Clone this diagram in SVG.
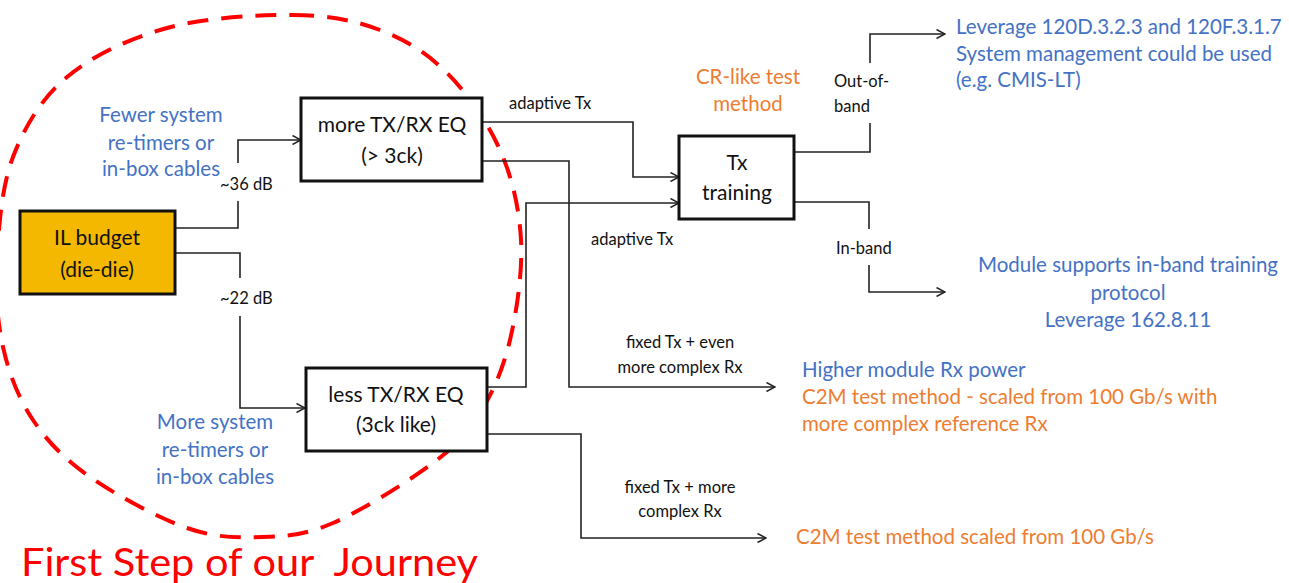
<svg xmlns="http://www.w3.org/2000/svg" width="1289" height="583" viewBox="0 0 1289 583">
  <style>
    .box { fill: #ffffff; stroke: #111111; stroke-width: 3; }
    .box-il { fill: #F4B800; stroke: #111111; stroke-width: 3; }
    .node-text { font-family: Lato, "Liberation Sans", sans-serif; font-size: 21px; fill: #111111; text-anchor: middle; }
    .lbl { font-family: Lato, "Liberation Sans", sans-serif; font-size: 16.5px; fill: #111111; }
    .blue { font-family: Lato, "Liberation Sans", sans-serif; font-size: 20.5px; fill: #4472C4; }
    .orange { font-family: Lato, "Liberation Sans", sans-serif; font-size: 20.5px; fill: #ED7D31; }
    .mid { text-anchor: middle; }
    .wire { fill: none; stroke: #222222; stroke-width: 1.6; }
    .arrow { marker-end: url(#chev); }
    .title { font-family: Lato, "Liberation Sans", sans-serif; font-size: 39px; fill: #FF0000; white-space: pre; }
    .scope { fill: none; stroke: #FF0000; stroke-width: 4; stroke-dasharray: 21 13; }
  </style>
  <defs>
    <marker id="chev" viewBox="0 0 10 10" refX="9.5" refY="5" markerWidth="10" markerHeight="10" markerUnits="userSpaceOnUse" orient="auto">
      <path d="M1,0.5 L9.5,5 L1,9.5" fill="none" stroke="#222222" stroke-width="1.5"/>
    </marker>
  </defs>

  <rect width="1289" height="583" fill="#ffffff"/>

  <!-- dashed scope loop around the first step -->
  <path class="scope" d="M293,15
    C328.5,15.3 354.3,20.3 380,30
    C405.7,39.7 427,53 447,73
    C467,93 487.7,122.2 500,150
    C512.3,177.8 519.3,208.3 521,240
    C522.7,271.7 516.8,311.2 510,340
    C503.2,368.8 492.8,392.5 480,413
    C467.2,433.5 457.5,444.7 433,463
    C408.5,481.3 361.5,510.7 333,523
    C304.5,535.3 286.3,536.2 262,537
    C237.7,537.8 215.7,538 187,528
    C158.3,518 115.7,495 90,477
    C64.3,459 47.5,441.7 33,420
    C18.5,398.3 9,373.7 3,347
    C-3,320.3 -4.7,291.7 -3,260
    C-1.3,228.3 1.3,187.5 13,157
    C24.7,126.5 41.3,98.5 67,77
    C92.7,55.5 129.3,38.3 167,28
    C204.7,17.7 257.5,14.7 293,15 Z"/>

  <!-- connectors -->
  <g id="connectors">
    <polyline class="wire" points="175,228 238,228 238,201"/>
    <polyline class="wire arrow" points="238,163 238,140 301,140"/>
    <polyline class="wire" points="175,253 240,253 240,278"/>
    <polyline class="wire arrow" points="240,316 240,408 305,408"/>
    <polyline class="wire arrow" points="482,122 633,122 633,177 679,177"/>
    <polyline class="wire arrow" points="482,161 569,161 569,387 775,387"/>
    <polyline class="wire arrow" points="487,387 526,387 526,203 679,203"/>
    <polyline class="wire arrow" points="487,434 581,434 581,538 766,538"/>
    <polyline class="wire" points="794,152 870,152 870,123"/>
    <polyline class="wire arrow" points="870,63 870,34 945,34"/>
    <polyline class="wire" points="794,202 869,202 869,229"/>
    <polyline class="wire arrow" points="869,265 869,292 945,292"/>
  </g>

  <!-- nodes -->
  <g id="il-budget">
    <rect class="box-il" x="20" y="211" width="155" height="83"/>
    <text class="node-text" x="97" y="245">IL budget</text>
    <text class="node-text" x="97" y="277">(die-die)</text>
  </g>
  <g id="more-eq">
    <rect class="box" x="301" y="98" width="181" height="83"/>
    <text class="node-text" x="392" y="132">more TX/RX EQ</text>
    <text class="node-text" x="392" y="163">(&gt; 3ck)</text>
  </g>
  <g id="less-eq">
    <rect class="box" x="306" y="368" width="181" height="83"/>
    <text class="node-text" x="396" y="402">less TX/RX EQ</text>
    <text class="node-text" x="396" y="432">(3ck like)</text>
  </g>
  <g id="tx-training">
    <rect class="box" x="679" y="136" width="115" height="83"/>
    <text class="node-text" x="737" y="170">Tx</text>
    <text class="node-text" x="737" y="200">training</text>
  </g>

  <!-- connector labels -->
  <g id="labels">
    <text class="lbl" x="220" y="190">~36 dB</text>
    <text class="lbl" x="220" y="304">~22 dB</text>
    <text class="lbl" x="509" y="109">adaptive Tx</text>
    <text class="lbl" x="591" y="245">adaptive Tx</text>
    <text class="lbl" x="834" y="87">Out-of-</text>
    <text class="lbl" x="834" y="112">band</text>
    <text class="lbl" x="836" y="254">In-band</text>
    <text class="lbl mid" x="680" y="348">fixed Tx + even</text>
    <text class="lbl mid" x="680" y="373">more complex Rx</text>
    <text class="lbl mid" x="680" y="493">fixed Tx + more</text>
    <text class="lbl mid" x="680" y="517">complex Rx</text>
  </g>

  <!-- annotations -->
  <g id="notes">
    <text class="blue mid" x="161" y="122">Fewer system</text>
    <text class="blue mid" x="161" y="150">re-timers or</text>
    <text class="blue mid" x="161" y="176">in-box cables</text>
    <text class="blue mid" x="215" y="429">More system</text>
    <text class="blue mid" x="215" y="457">re-timers or</text>
    <text class="blue mid" x="215" y="484">in-box cables</text>
    <text class="orange mid" x="748" y="84">CR-like test</text>
    <text class="orange mid" x="748" y="111">method</text>
    <text class="blue" x="956" y="34">Leverage 120D.3.2.3 and 120F.3.1.7</text>
    <text class="blue" x="956" y="61">System management could be used</text>
    <text class="blue" x="956" y="87">(e.g. CMIS-LT)</text>
    <text class="blue mid" x="1128" y="272">Module supports in-band training</text>
    <text class="blue mid" x="1128" y="300">protocol</text>
    <text class="blue mid" x="1128" y="327">Leverage 162.8.11</text>
    <text class="blue" x="802" y="377">Higher module Rx power</text>
    <text class="orange" x="802" y="404">C2M test method - scaled from 100 Gb/s with</text>
    <text class="orange" x="802" y="431">more complex reference Rx</text>
    <text class="orange" x="796" y="544">C2M test method scaled from 100 Gb/s</text>
  </g>

  <text class="title" x="21" y="576" xml:space="preserve" textLength="457" lengthAdjust="spacingAndGlyphs">First Step of our  Journey</text>
</svg>
